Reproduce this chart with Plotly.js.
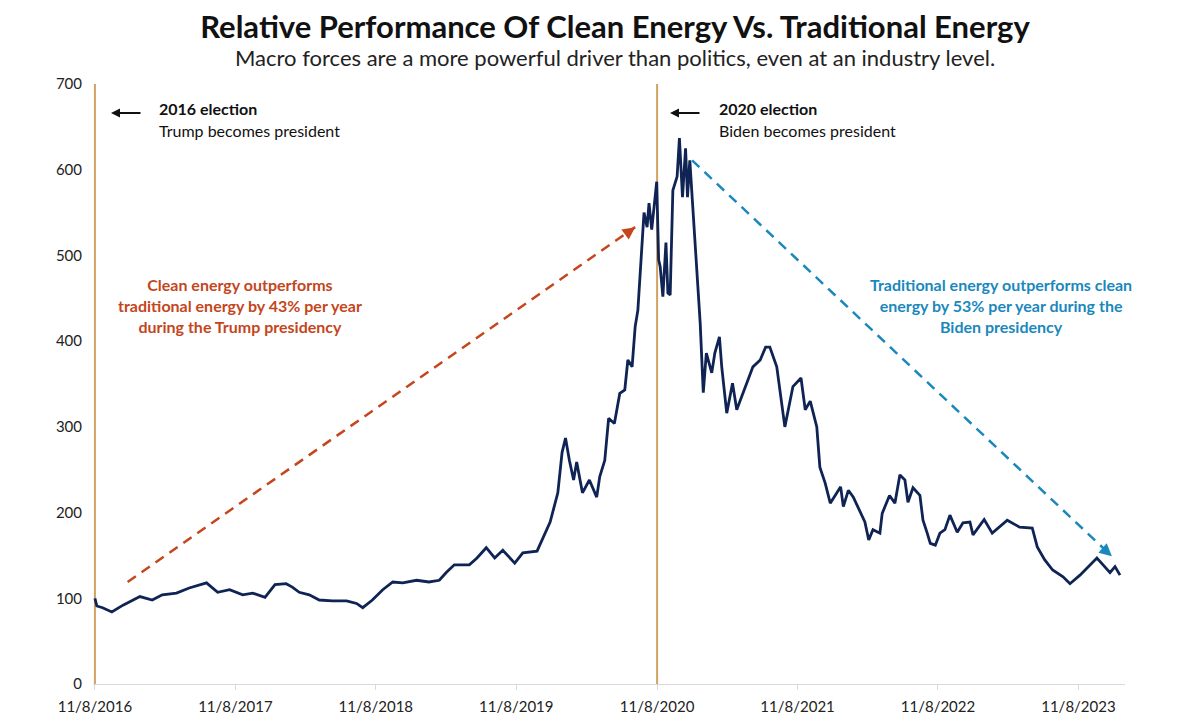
<!DOCTYPE html>
<html>
<head>
<meta charset="utf-8">
<script src="https://cdn.plot.ly/plotly-3.0.1.min.js"></script>
<style>html,body{margin:0;padding:0;background:#fff}#chart{width:1200px;height:723px}</style>
</head>
<body>
<div id="chart"></div>
<script>
// Relative performance index (clean vs traditional energy)
const dates = [
"2016-11-08","2016-11-13","2016-11-28","2016-12-22","2017-01-20","2017-02-15","2017-03-05","2017-04-06","2017-05-02","2017-06-08",
"2017-07-11","2017-08-25","2017-09-23","2017-10-24","2017-11-27","2017-12-23","2018-01-24","2018-02-19","2018-03-20","2018-04-05",
"2018-04-23","2018-05-19","2018-06-14","2018-07-18","2018-08-24","2018-09-19","2018-10-05","2018-10-30","2018-11-26","2018-12-22",
"2019-01-17","2019-02-22","2019-03-26","2019-04-22","2019-05-10","2019-05-31","2019-07-09","2019-07-29","2019-08-22","2019-09-13",
"2019-10-04","2019-11-04","2019-11-25","2020-01-01","2020-01-16","2020-02-04","2020-02-24","2020-03-06","2020-03-15","2020-03-25",
"2020-04-05","2020-04-13","2020-04-28","2020-05-16","2020-06-04","2020-06-12","2020-06-25","2020-07-05","2020-07-20","2020-08-03",
"2020-08-16","2020-08-24","2020-09-04","2020-09-12","2020-09-19","2020-09-30","2020-10-05","2020-10-13","2020-10-18","2020-10-25",
"2020-11-07","2020-11-12","2020-11-16","2020-11-23","2020-12-01","2020-12-06","2020-12-12","2020-12-19","2020-12-30","2021-01-05",
"2021-01-13","2021-01-21","2021-01-26","2021-02-01","2021-02-09","2021-02-22","2021-02-28","2021-03-08","2021-03-16","2021-03-30",
"2021-04-07","2021-04-19","2021-04-25","2021-05-08","2021-05-23","2021-06-03","2021-06-29","2021-07-15","2021-08-03","2021-08-17",
"2021-08-28","2021-09-15","2021-10-06","2021-10-27","2021-11-17","2021-11-28","2021-12-11","2021-12-28","2022-01-05","2022-01-19",
"2022-02-01","2022-02-28","2022-03-07","2022-03-20","2022-04-02","2022-04-18","2022-05-02","2022-05-12","2022-05-23","2022-06-10",
"2022-06-16","2022-07-05","2022-07-19","2022-08-01","2022-08-14","2022-08-22","2022-09-04","2022-09-22","2022-09-30","2022-10-11",
"2022-10-19","2022-11-01","2022-11-13","2022-11-26","2022-12-09","2022-12-28","2023-01-12","2023-01-30","2023-02-07","2023-03-08",
"2023-03-29","2023-05-07","2023-06-08","2023-07-11","2023-07-24","2023-08-12","2023-09-02","2023-09-29","2023-10-17","2023-11-12",
"2023-12-08","2023-12-26","2024-01-11","2024-01-29","2024-02-11","2024-02-24"
];
const values = [
100,91,89,84,92,98,102,98,104,106,
112,118,107,110,104,106,101,116,117,113,
107,104,98,97,97,94,89,98,110,119,
118,121,119,121,130,139,139,147,159,147,
156,141,153,155,170,189,223,270,287,261,
238,259,223,238,218,242,261,310,304,339,
343,378,370,417,436,515,550,533,561,530,
586,495,487,452,515,456,454,576,592,637,
568,625,568,611,557,463,421,340,386,363,
386,405,370,316,351,320,351,370,378,393,
393,370,300,347,357,320,330,300,253,234,
211,230,207,226,218,203,189,168,180,176,
199,220,211,244,238,212,229,220,191,176,
164,162,176,180,197,177,188,189,174,192,
176,191,183,182,160,145,133,125,117,127,
139,147,139,130,137,127
];

const tickDates = ["2016-11-08","2017-11-08","2018-11-08","2019-11-08","2020-11-08","2021-11-08","2022-11-08","2023-11-08"];
const tickLabels = ["11/8/2016","11/8/2017","11/8/2018","11/8/2019","11/8/2020","11/8/2021","11/8/2022","11/8/2023"];
const electionDates = ["2016-11-08","2020-11-08"];

// Trend arrows (start / end)
const redArrowX = ["2017-02-01","2020-09-12"];
const redArrowY = [119, 533];
const blueArrowX = ["2021-02-07","2024-02-03"];
const blueArrowY = [611, 149];

const FONT = "Lato, 'Open Sans', sans-serif";
const RED = "#c4461c";
const BLUE = "#1a88bd";
const GOLD = "#d1a263";

const trace = {
  x: dates, y: values, type: "scatter", mode: "lines",
  line: {color: "#0f2454", width: 2.8},
  hoverinfo: "skip", showlegend: false
};

const shapes = electionDates.map(d => ({
  type: "line", xref: "x", yref: "y", x0: d, x1: d, y0: 0, y1: 700, layer: "below",
  line: {color: GOLD, width: 2}
}));
shapes.push({type:"line", xref:"x", yref:"y", x0: redArrowX[0], x1: redArrowX[1], y0: redArrowY[0], y1: redArrowY[1],
  line:{color: RED, width: 2.5, dash: "10px,7px"}});
shapes.push({type:"line", xref:"x", yref:"y", x0: blueArrowX[0], x1: blueArrowX[1], y0: blueArrowY[0], y1: blueArrowY[1],
  line:{color: BLUE, width: 2.5, dash: "10px,7px"}});

const L = 93, W = 1032, T = 84, H = 600;
const px = v => (v - L) / W;
const py = v => (T + H - v) / H;

const annotations = [
  {xref:"paper", yref:"paper", x: px(615), y: py(57), text:"Macro forces are a more powerful driver than politics, even at an industry level.",
   showarrow:false, xanchor:"center", yanchor:"middle", font:{family:FONT, size:22, color:"#222"}},
  {xref:"paper", yref:"paper", x: px(157), y: py(109), text:"<b>2016 election</b>", showarrow:false, xanchor:"left", yanchor:"middle",
   font:{family:FONT, size:16, color:"#111"}},
  {xref:"paper", yref:"paper", x: px(157), y: py(130), text:"Trump becomes president", showarrow:false, xanchor:"left", yanchor:"middle",
   font:{family:FONT, size:16, color:"#111"}},
  {xref:"paper", yref:"paper", x: px(717), y: py(109), text:"<b>2020 election</b>", showarrow:false, xanchor:"left", yanchor:"middle",
   font:{family:FONT, size:16, color:"#111"}},
  {xref:"paper", yref:"paper", x: px(717), y: py(130), text:"Biden becomes president", showarrow:false, xanchor:"left", yanchor:"middle",
   font:{family:FONT, size:16, color:"#111"}},
  {xref:"paper", yref:"paper", x: px(111), y: py(113), ax: 31, ay: 0, text:"", showarrow:true, arrowhead:2, arrowsize:0.9, arrowwidth:2, arrowcolor:"#111", standoff:0},
  {xref:"paper", yref:"paper", x: px(670), y: py(113), ax: 31, ay: 0, text:"", showarrow:true, arrowhead:2, arrowsize:0.9, arrowwidth:2, arrowcolor:"#111", standoff:0},
  {xref:"paper", yref:"paper", x: px(240), y: py(305), text:"<b>Clean energy outperforms<br>traditional energy by 43% per year<br>during the Trump presidency</b>",
   showarrow:false, xanchor:"center", yanchor:"middle", align:"center", font:{family:FONT, size:16, color:RED}},
  {xref:"paper", yref:"paper", x: px(1001), y: py(305), text:"<b>Traditional energy outperforms clean<br>energy by 53% per year during the<br>Biden presidency</b>",
   showarrow:false, xanchor:"center", yanchor:"middle", align:"center", font:{family:FONT, size:16, color:BLUE}},
  {xref:"x", yref:"y", x: redArrowX[1], y: redArrowY[1], ax:-11, ay:8, text:"", showarrow:true, arrowhead:2, arrowsize:1, arrowwidth:2.5, arrowcolor:RED, standoff:0},
  {xref:"x", yref:"y", x: blueArrowX[1], y: blueArrowY[1], ax:-9, ay:-8, text:"", showarrow:true, arrowhead:2, arrowsize:1, arrowwidth:2.5, arrowcolor:BLUE, standoff:0}
];

const layout = {
  width: 1200, height: 723,
  margin: {l: L, r: 1200 - L - W, t: T, b: 723 - T - H},
  paper_bgcolor: "#ffffff", plot_bgcolor: "#ffffff",
  title: {text: "<b>Relative Performance Of Clean Energy Vs. Traditional Energy</b>", xref:"container", yref:"container",
    x: 615/1200, xanchor:"center", y: 1 - 27/723, yanchor:"middle", font:{family:FONT, size:31, color:"#111"}},
  xaxis: {type:"date", range:["2016-11-03","2024-03-08"], tickvals: tickDates, ticktext: tickLabels,
    showgrid:false, zeroline:false, showline:true, linecolor:"#d9d9d9", linewidth:1,
    ticks:"outside", ticklen:5, tickcolor:"#d9d9d9", ticklabelstandoff: 4,
    tickfont:{family:FONT, size:15, color:"#222"}, fixedrange:true},
  yaxis: {range:[0,700], dtick:100, tick0:0, showgrid:false, zeroline:false, showline:false, ticks:"",
    ticklabelstandoff: 10, tickfont:{family:FONT, size:15, color:"#222"}, fixedrange:true},
  shapes: shapes,
  annotations: annotations,
  showlegend: false
};

Plotly.newPlot("chart", [trace], layout, {displayModeBar:false, staticPlot:true});
</script>
</body>
</html>
